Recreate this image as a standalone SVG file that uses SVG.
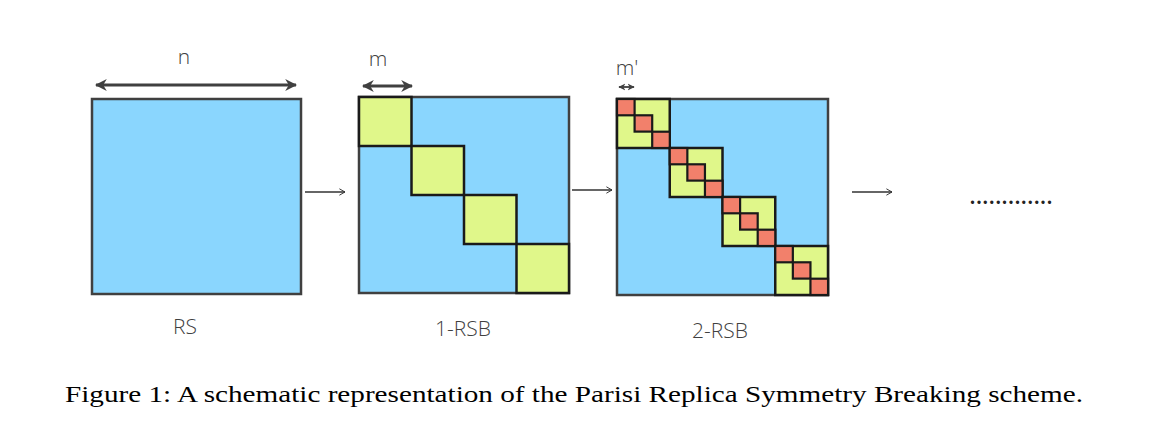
<svg xmlns="http://www.w3.org/2000/svg" width="1173" height="431" viewBox="0 0 1173 431">
<defs>
<marker id="ah" viewBox="0 0 10 10" refX="9" refY="5" markerWidth="4" markerHeight="4" orient="auto-start-reverse" markerUnits="strokeWidth">
<path d="M0,0 L10,5 L0,10 L3,5 Z" fill="#404040"/>
</marker>
<marker id="thin" viewBox="0 0 10 10" refX="9" refY="5" markerWidth="8" markerHeight="8" orient="auto" markerUnits="userSpaceOnUse">
<path d="M2,1 L9,5 L2,9" fill="none" stroke="#333" stroke-width="1.2"/>
</marker>
<style>
.blue{fill:#8ad6fe;stroke:#404040;stroke-width:2.5}
.yel{fill:#e0f78a;stroke:#1a1a1a;stroke-width:2.5}
.red{fill:#f2806b;stroke:#1a1a1a;stroke-width:2.2}
.dim{stroke:#404040;stroke-width:3;fill:none}
.lab{font-family:"Open Sans","Liberation Sans",sans-serif;font-weight:300;fill:#404040}
.step{stroke:#333;stroke-width:1.3;fill:none}
.cap{font-family:"Liberation Serif",serif;font-size:24px;fill:#000}
</style>
</defs>
<g id="rs">
<rect class="blue" x="92" y="99" width="209" height="195"/>
<line class="dim" x1="96" y1="85" x2="296" y2="85" marker-start="url(#ah)" marker-end="url(#ah)"/>
<text class="lab" x="184" y="64" font-size="21" text-anchor="middle">n</text>
<text class="lab" x="185" y="334" font-size="21" text-anchor="middle">RS</text>
</g>
<g id="rsb1">
<rect class="blue" x="359" y="97" width="210" height="196"/>
<rect class="yel" x="359" y="97" width="52.5" height="49"/>
<rect class="yel" x="411.5" y="146" width="52.5" height="49"/>
<rect class="yel" x="464" y="195" width="52.5" height="49"/>
<rect class="yel" x="516.5" y="244" width="52.5" height="49"/>
<line class="dim" x1="363" y1="86" x2="412" y2="86" marker-start="url(#ah)" marker-end="url(#ah)"/>
<text class="lab" x="378" y="66" font-size="21" text-anchor="middle">m</text>
<text class="lab" x="463" y="336" font-size="21" text-anchor="middle">1-RSB</text>
</g>
<g id="rsb2">
<rect class="blue" x="617" y="99" width="211" height="196"/>
<g>
<rect class="yel" x="617" y="99" width="52.75" height="49"/>
<rect class="red" x="617" y="99" width="17.6" height="16.3"/>
<rect class="red" x="634.6" y="115.3" width="17.6" height="16.3"/>
<rect class="red" x="652.2" y="131.7" width="17.6" height="16.3"/>
</g>
<g>
<rect class="yel" x="669.75" y="148" width="52.75" height="49"/>
<rect class="red" x="669.75" y="148" width="17.6" height="16.3"/>
<rect class="red" x="687.35" y="164.3" width="17.6" height="16.3"/>
<rect class="red" x="704.95" y="180.7" width="17.6" height="16.3"/>
</g>
<g>
<rect class="yel" x="722.5" y="197" width="52.75" height="49"/>
<rect class="red" x="722.5" y="197" width="17.6" height="16.3"/>
<rect class="red" x="740.1" y="213.3" width="17.6" height="16.3"/>
<rect class="red" x="757.7" y="229.7" width="17.6" height="16.3"/>
</g>
<g>
<rect class="yel" x="775.25" y="246" width="52.75" height="49"/>
<rect class="red" x="775.25" y="246" width="17.6" height="16.3"/>
<rect class="red" x="792.85" y="262.3" width="17.6" height="16.3"/>
<rect class="red" x="810.45" y="278.7" width="17.6" height="16.3"/>
</g>
<line x1="619" y1="87" x2="634" y2="87" stroke="#404040" stroke-width="1.8" marker-start="url(#ah)" marker-end="url(#ah)"/>
<text class="lab" x="627" y="75" font-size="21" text-anchor="middle">m'</text>
<text class="lab" x="720" y="338" font-size="21" text-anchor="middle">2-RSB</text>
</g>
<g id="connectors">
<line class="step" x1="305" y1="192" x2="345" y2="192" marker-end="url(#thin)"/>
<line class="step" x1="572" y1="190" x2="612" y2="190" marker-end="url(#thin)"/>
<line class="step" x1="852" y1="192" x2="892" y2="192" marker-end="url(#thin)"/>
</g>
<g id="dots">
<text x="970" y="204" font-family="Liberation Serif,serif" font-size="20" font-weight="bold" fill="#222" textLength="82" lengthAdjust="spacing">.............</text>
</g>
<text class="cap" x="65" y="402" textLength="1018" lengthAdjust="spacingAndGlyphs">Figure 1:  A schematic representation of the Parisi Replica Symmetry Breaking scheme.</text>
</svg>
